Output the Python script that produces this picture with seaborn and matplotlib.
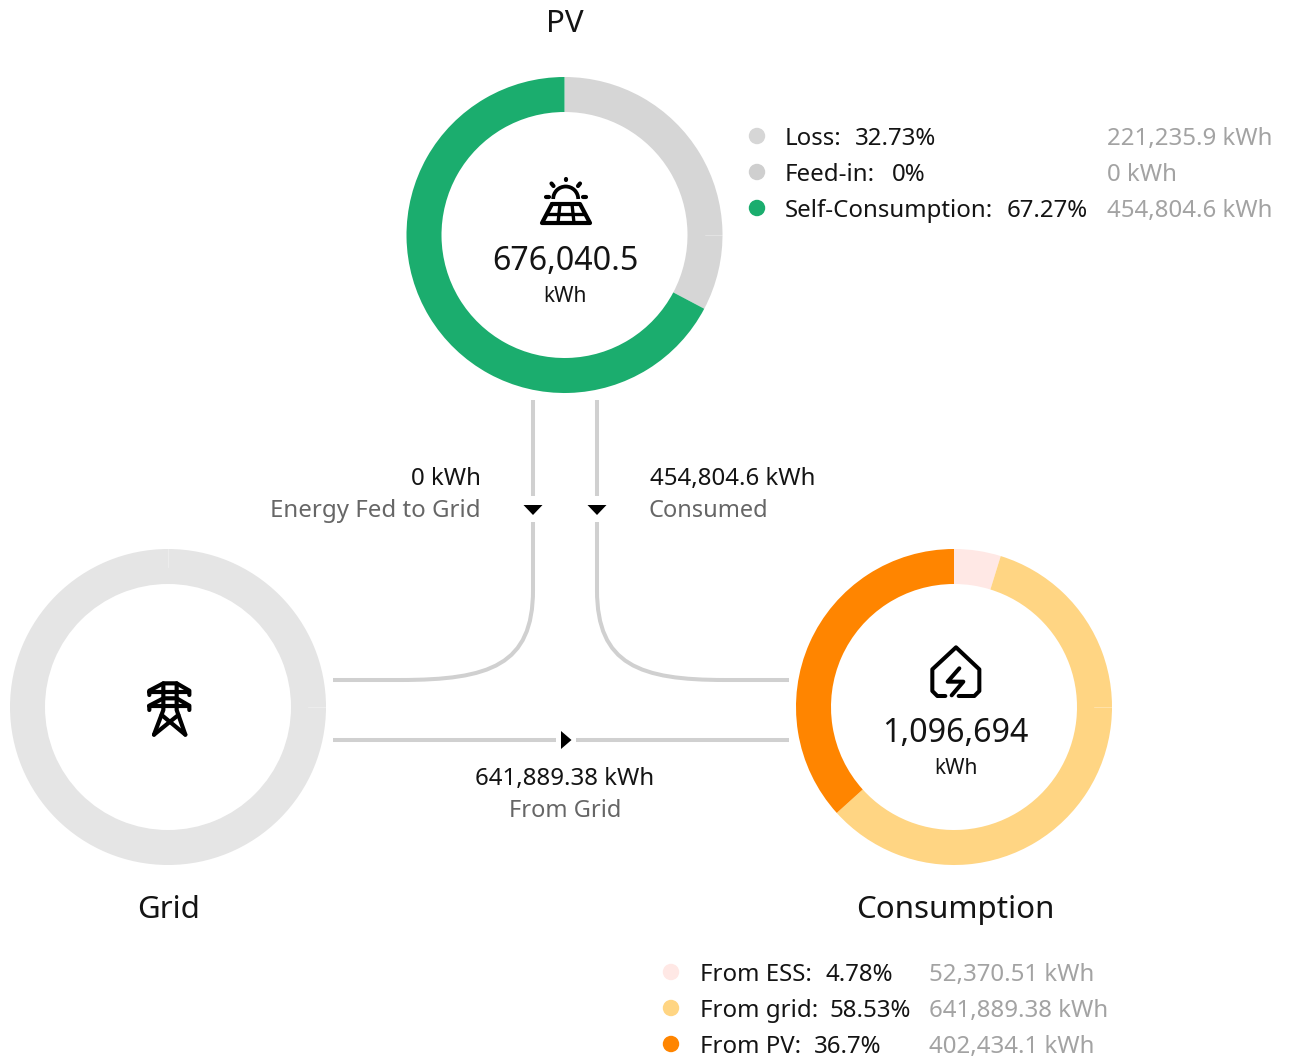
#!/usr/bin/env python3
# plot.py
# Energy flow overview: PV, grid and consumption rings joined by flow lines.

import pandas as pd
import seaborn as sns
import matplotlib.pyplot as plt
from matplotlib.patches import PathPatch, Polygon, Arc
from matplotlib.path import Path

W, H = 1291, 1062

# ring data, slices clockwise from 12 o'clock
PV_NAMES = ["Loss", "Feed-in", "Self-Consumption"]
PV_PCT = [32.73, 0, 67.27]
PV_KWH = ["221,235.9 kWh", "0 kWh", "454,804.6 kWh"]
PV_TOTAL = "676,040.5"

CONS_NAMES = ["From ESS", "From grid", "From PV"]
CONS_PCT = [4.78, 58.53, 36.7]
CONS_KWH = ["52,370.51 kWh", "641,889.38 kWh", "402,434.1 kWh"]
CONS_TOTAL = "1,096,694"

FLOW_FED = "0 kWh"
FLOW_CONSUMED = "454,804.6 kWh"
FLOW_GRID = "641,889.38 kWh"

PV_COLORS = ["#d6d6d6", "#cfcfcf", "#1bad6e"]
CONS_COLORS = ["#ffe8e5", "#ffd583", "#ff8500"]
GRID_COLOR = "#e5e5e5"
LINE_COLOR = "#d0d0d0"
DARK = "#141414"
MID = "#666666"
LIGHT = "#a3a3a3"

PV_C = (564.5, 235)
GRID_C = (168, 707)
CONS_C = (954, 707)
R_OUT, R_IN = 158, 123
FONT = "Noto Sans"
SMALL = 17.3


def ring(ax, center, values, colors):
    # y axis is flipped, so counterclock here runs clockwise on screen
    ax.pie(values, colors=colors, center=center, radius=R_OUT, startangle=-90,
           counterclock=True, wedgeprops={"width": R_OUT - R_IN, "linewidth": 0},
           normalize=True)


def seam(ax, center, top=False):
    # faint hairline where the source ring slices meet
    cx, cy = center
    ax.plot([cx + R_OUT - 18, cx + R_OUT], [cy, cy], color="white", lw=0.7, alpha=0.3)
    if top:
        ax.plot([cx, cx], [cy - R_OUT, cy - R_OUT + 18], color="white", lw=0.7, alpha=0.3)


def label(ax, x, y, s, size, color=DARK, ha="left"):
    ax.text(x, y, s, fontsize=size, color=color, ha=ha, va="center", family=FONT)


def stroke(ax, verts, codes=None, lw=2.7, color="black", cap="round"):
    if codes is None:
        codes = [Path.MOVETO] + [Path.LINETO] * (len(verts) - 1)
    ax.add_patch(PathPatch(Path(verts, codes), fill=False, edgecolor=color, lw=lw,
                           capstyle=cap, joinstyle="round"))


def flow_lines(ax):
    segs = [((533, 400), (533, 496)), ((597, 400), (597, 496)),
            ((333, 740), (556, 740)), ((576, 740), (789, 740))]
    for a, b in segs:
        df = pd.DataFrame({"x": [a[0], b[0]], "y": [a[1], b[1]]})
        sns.lineplot(data=df, x="x", y="y", ax=ax, color=LINE_COLOR, lw=2.9,
                     estimator=None, sort=False, legend=False, solid_capstyle="butt")
    curve = [Path.MOVETO, Path.LINETO, Path.CURVE4, Path.CURVE4, Path.CURVE4, Path.LINETO]
    stroke(ax, [(533, 522), (533, 590), (533, 665), (490, 680), (400, 680), (333, 680)],
           curve, lw=2.9, color=LINE_COLOR, cap="butt")
    stroke(ax, [(597, 522), (597, 590), (597, 665), (640, 680), (725, 680), (789, 680)],
           curve, lw=2.9, color=LINE_COLOR, cap="butt")
    for x in (533, 597):
        ax.add_patch(Polygon([(x - 9.5, 505), (x + 9.5, 505), (x, 515)], color="black", lw=0))
    ax.add_patch(Polygon([(561, 731), (571.5, 740), (561, 749)], color="black", lw=0))


def sun_icon(ax):
    ax.add_patch(Arc((565.7, 199), 25, 25, theta1=180, theta2=360, lw=2.7, color="black"))
    for a, b in [((565.7, 178.5), (565.7, 180)), ((551.5, 183.5), (553.5, 186)),
                 ((580, 183.5), (578, 186)), ((546, 197), (549, 197)), ((582.5, 197), (585.5, 197))]:
        stroke(ax, [a, b], lw=3)
    stroke(ax, [(552, 204), (580, 204), (590, 223), (542, 223), (552, 204)], lw=3)
    stroke(ax, [(547, 213.5), (585, 213.5)], lw=2.4)
    stroke(ax, [(560, 204), (558, 223)], lw=2.4)
    stroke(ax, [(572, 204), (574, 223)], lw=2.4)


def tower_icon(ax):
    pts = lambda seq: [(120 + x / 3, 660 + y / 3) for x, y in seq]
    stroke(ax, pts([(88, 105), (88, 92), (130, 70), (170, 70), (208, 92), (208, 105)]), lw=3)
    stroke(ax, pts([(88, 150), (88, 137), (130, 115), (170, 115), (208, 137), (208, 150)]), lw=3)
    stroke(ax, pts([(88, 95), (208, 95)]), lw=3)
    stroke(ax, pts([(88, 138), (208, 138)]), lw=3)
    stroke(ax, pts([(130, 70), (130, 150), (102, 224)]), lw=3)
    stroke(ax, pts([(170, 70), (170, 150), (196, 224)]), lw=3)
    stroke(ax, pts([(125, 165), (196, 224)]), lw=3)
    stroke(ax, pts([(175, 165), (102, 224)]), lw=3)


def house_icon(ax):
    pts = lambda seq: [(900 + x / 3, 630 + y / 3) for x, y in seq]
    stroke(ax, pts([(136, 198), (112, 198), (97, 183), (97, 118), (168, 52), (238, 118),
                    (238, 183), (223, 198), (176, 198)]), lw=2.9)
    stroke(ax, pts([(178, 115), (143, 155), (190, 155), (155, 196)]), lw=2.9)


def legend_block(ax, dot_x, text_x, kwh_x, ys, names, pcts, kwhs, colors, pct_x):
    dots = pd.DataFrame({"x": [dot_x] * len(ys), "y": ys, "name": names})
    sns.scatterplot(data=dots, x="x", y="y", hue="name", palette=dict(zip(names, colors)),
                    s=140, linewidth=0, ax=ax, legend=False)
    for y, n, p, k, px in zip(ys, names, pcts, kwhs, pct_x):
        label(ax, text_x, y + 3, f"{n}:", SMALL)
        label(ax, px, y + 3, f"{p:g}%", SMALL)
        label(ax, kwh_x, y + 3, k, SMALL, LIGHT)


def main():
    sns.set_theme(style="white")
    fig = plt.figure(figsize=(W / 100, H / 100), dpi=100)
    ax = fig.add_axes([0, 0, 1, 1])

    ring(ax, PV_C, PV_PCT, PV_COLORS)
    ring(ax, GRID_C, [100], [GRID_COLOR])
    ring(ax, CONS_C, CONS_PCT, CONS_COLORS)

    ax.set_xlim(0, W)
    ax.set_ylim(H, 0)
    ax.set_aspect("equal")
    ax.axis("off")

    seam(ax, PV_C)
    seam(ax, GRID_C, top=True)
    seam(ax, CONS_C)

    flow_lines(ax)
    sun_icon(ax)
    tower_icon(ax)
    house_icon(ax)

    label(ax, 565, 24, "PV", 22.5, ha="center")
    label(ax, 169, 910, "Grid", 22.5, ha="center")
    label(ax, 955, 910, "Consumption", 22.5, ha="center")

    label(ax, 565, 261, PV_TOTAL, 23.2, ha="center")
    label(ax, 565, 296, "kWh", 15, ha="center")
    label(ax, 955.5, 733, CONS_TOTAL, 23.2, ha="center")
    label(ax, 955.5, 768, "kWh", 15, ha="center")

    label(ax, 481, 479, FLOW_FED, SMALL, ha="right")
    label(ax, 481, 511, "Energy Fed to Grid", SMALL, MID, ha="right")
    label(ax, 650, 479, FLOW_CONSUMED, SMALL)
    label(ax, 649, 511, "Consumed", 17, MID)
    label(ax, 565, 779, FLOW_GRID, SMALL, ha="center")
    label(ax, 565, 811, "From Grid", 17, MID, ha="center")

    legend_block(ax, 757, 785, 1107, [136, 172, 208], PV_NAMES, PV_PCT, PV_KWH, PV_COLORS,
                 [855, 892, 1007])
    legend_block(ax, 671, 700, 929, [972, 1008, 1044], CONS_NAMES, CONS_PCT, CONS_KWH, CONS_COLORS,
                 [826, 829, 814])

    ax.set_xlim(0, W)
    ax.set_ylim(H, 0)
    fig.savefig("out.png", dpi=100, facecolor="white")


if __name__ == "__main__":
    main()
